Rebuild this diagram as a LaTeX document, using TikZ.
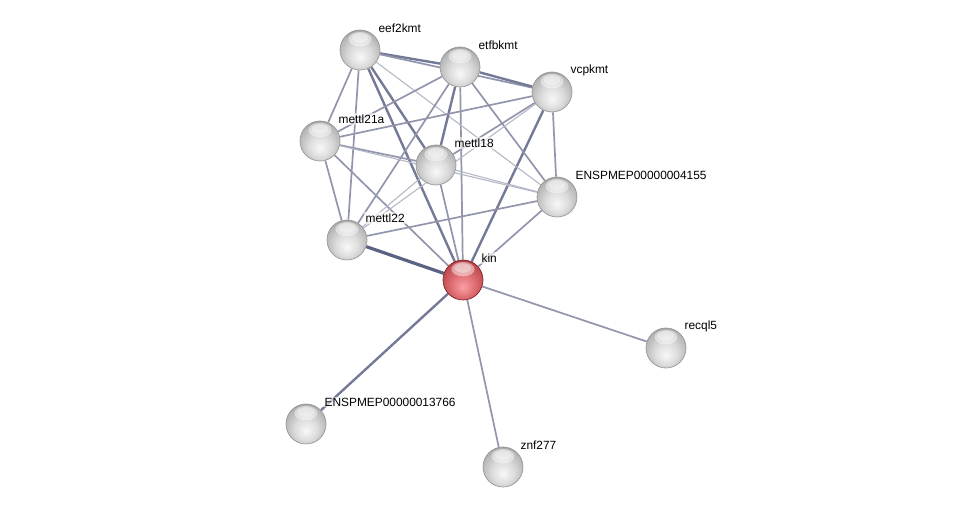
\documentclass[tikz,border=0pt]{standalone}
\usepackage{fontspec}
\setmainfont{Liberation Sans}
\usetikzlibrary{backgrounds}
\definecolor{edgeA}{RGB}{180,183,198}
\definecolor{edgeB}{RGB}{145,150,172}
\definecolor{edgeC}{RGB}{115,121,150}
\definecolor{edgeD}{RGB}{92,98,132}
\definecolor{sgA}{RGB}{248,248,248}
\definecolor{sgB}{RGB}{220,220,220}
\definecolor{sgC}{RGB}{178,178,178}
\definecolor{sgD}{RGB}{120,120,120}
\definecolor{srA}{RGB}{250,160,165}
\definecolor{srB}{RGB}{224,112,117}
\definecolor{srC}{RGB}{188,72,77}
\definecolor{srD}{RGB}{130,35,40}
\pgfdeclareradialshading{sphgray}{\pgfqpoint{0bp}{-9bp}}{color(0bp)=(sgA); color(14bp)=(sgB); color(28bp)=(sgC); color(33bp)=(sgD); color(60bp)=(sgD)}
\pgfdeclareradialshading{sphred}{\pgfqpoint{0bp}{-9bp}}{color(0bp)=(srA); color(14bp)=(srB); color(28bp)=(srC); color(33bp)=(srD); color(60bp)=(srD)}
\tikzset{
  prot/.style={circle, minimum size=20pt, inner sep=0pt, draw=black!40, line width=0.35pt,
    shading=sphgray,
    path picture={\fill[white, opacity=0.45] ([yshift=5.4pt]path picture bounding box.center) ellipse (5.8pt and 3.6pt);
                  \fill[white, opacity=0.35] ([yshift=6pt]path picture bounding box.center) ellipse (4.2pt and 2.4pt);}},
  seed/.style={prot, shading=sphred, draw=srD},
  lbl/.style={font=\fontsize{5.95pt}{6.4pt}\selectfont, anchor=west, inner sep=0.6pt,
    fill=white, fill opacity=0.6, text opacity=1},
  ethin/.style={draw=edgeA, line width=0.55pt},
  emid/.style={draw=edgeB, line width=0.85pt},
  ethick/.style={draw=edgeC, line width=1.2pt},
  evthick/.style={draw=edgeD, line width=1.6pt},
}
\begin{document}
\begin{tikzpicture}[x=0.5pt,y=-0.5pt]
\useasboundingbox (0,0) rectangle (976,512);
% nodes
\node[prot] (E) at (360,50) {};
\node[prot] (T) at (460,67) {};
\node[prot] (V) at (552,92) {};
\node[prot] (A) at (320,141) {};
\node[prot] (M) at (436,165) {};
\node[prot] (P) at (557,197) {};
\node[prot] (L) at (347,240) {};
\node[seed] (K) at (463,280) {};
\node[prot] (R) at (666,348) {};
\node[prot] (Q) at (306,424) {};
\node[prot] (Z) at (503,467) {};
% labels
\node[lbl] (lE) at (377,28) {eef2kmt};
\node[lbl] (lT) at (477,45) {etfbkmt};
\node[lbl] (lV) at (569,70) {vcpkmt};
\node[lbl] (lA) at (337,119) {mettl21a};
\node[lbl] (lM) at (453,143) {mettl18};
\node[lbl] (lP) at (574,175) {ENSPMEP00000004155};
\node[lbl] (lL) at (364,218) {mettl22};
\node[lbl] (lK) at (480,258) {kin};
\node[lbl] (lR) at (683,326) {recql5};
\node[lbl] (lQ) at (323,402) {ENSPMEP00000013766};
\node[lbl] (lZ) at (519,445) {znf277};
% edges
\begin{scope}[on background layer]
\draw[evthick] (K) -- (L);
\draw[ethick] (K) -- (Q);
\draw[emid] (K) -- (Z);
\draw[emid] (K) -- (R);
\draw[emid] (K) -- (P);
\draw[ethick] (K) -- (V);
\draw[emid] (K) -- (T);
\draw[ethick] (K) -- (E);
\draw[emid] (K) -- (M);
\draw[emid] (K) -- (A);
\draw[ethick] (E) -- (T);
\draw[emid] (E) -- (V);
\draw[emid] (E) -- (A);
\draw[emid] (E) -- (L);
\draw[ethick] (E) -- (M);
\draw[ethin] (E) -- (P);
\draw[ethick] (T) -- (V);
\draw[emid] (T) -- (A);
\draw[ethick] (T) -- (M);
\draw[emid] (T) -- (P);
\draw[emid] (T) -- (L);
\draw[emid] (V) -- (A);
\draw[emid] (V) -- (M);
\draw[emid] (V) -- (P);
\draw[ethin] (V) -- (L);
\draw[emid] (A) -- (M);
\draw[ethin] (A) -- (P);
\draw[emid] (A) -- (L);
\draw[ethin] (M) -- (P);
\draw[ethin] (M) -- (L);
\draw[emid] (P) -- (L);
\end{scope}
\end{tikzpicture}
\end{document}
